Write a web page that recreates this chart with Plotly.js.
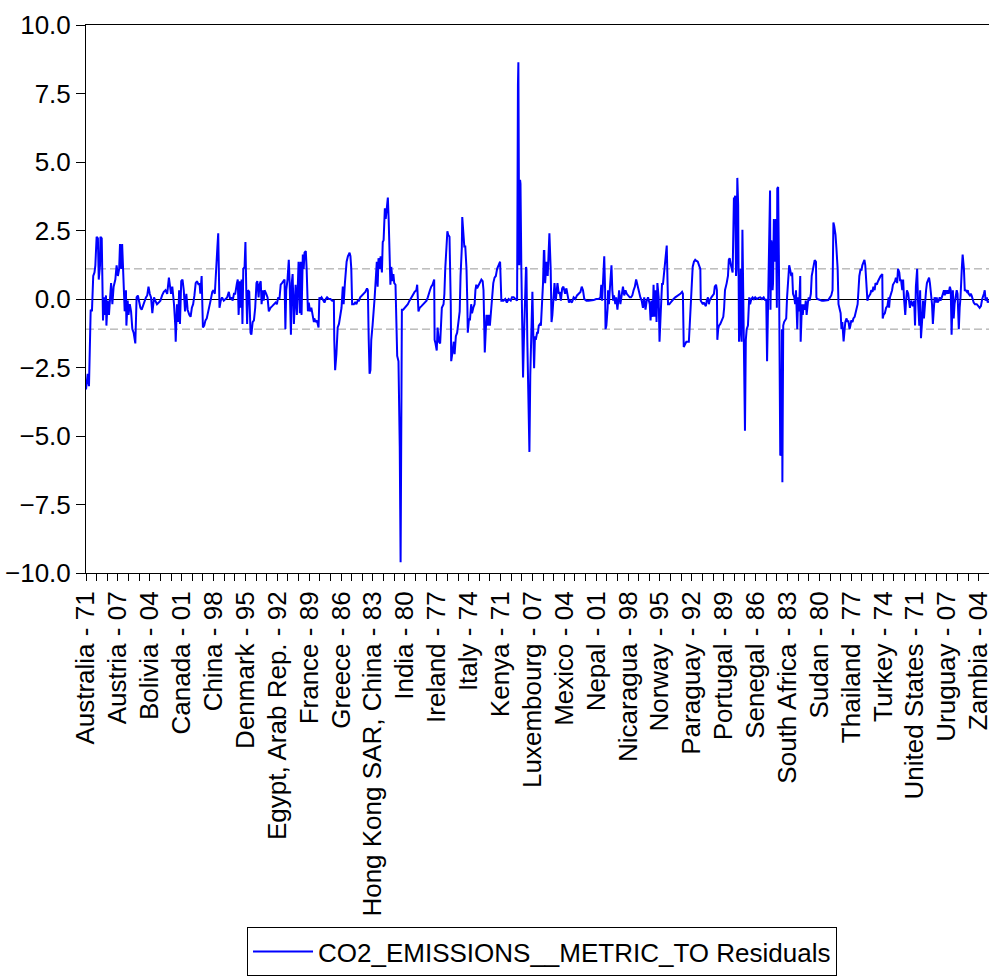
<!DOCTYPE html>
<html>
<head>
<meta charset="utf-8">
<script src="https://cdn.plot.ly/plotly-3.0.1.min.js"></script>
<style>html,body{margin:0;padding:0;background:#fff;}#chart{width:989px;height:978px;}</style>
</head>
<body>
<div id="chart"></div>
<script>
// Panel observation labels (every 75th observation)
const tickCountries = ["Australia","Austria","Bolivia","Canada","China","Denmark","Egypt, Arab Rep.","France","Greece","Hong Kong SAR, China","India","Ireland","Italy","Kenya","Luxembourg","Mexico","Nepal","Nicaragua","Norway","Paraguay","Portugal","Senegal","South Africa","Sudan","Thailand","Turkey","United States","Uruguay","Zambia"];
const tickYears = ["71","07","04","01","98","95","92","89","86","83","80","77","74","71","07","04","01","98","95","92","89","86","83","80","77","74","71","07","04"];
const tickStep = 75;
const minorStep = 25;
const lastObs = 2124;
const seBand = [1.1, -1.1];
const seriesName = "CO2_EMISSIONS__METRIC_TO Residuals";

const obs1 = [0,4,7,9,11,14,17,20,22,25,28,30,33,34,37,40,42,43,47,48,51,54,56,59,62,65,69,72,75,78,80,83,85,87,89,91,94,95,98,100,103,106,109,112,116,119,122,125,128,131,136,141,144,147,150,153,156,160,163,167,171,175,179,183,187,191,195,197,200,203,207,210,211,214,217,219,221,224,227,230,233,236,239,243,246,249,252,255,258,261,265];
const res1 = [-3.3,-2.73,-3.18,-1.10,-0.39,-0.45,0.84,0.97,1.23,2.27,2.21,0.71,1.23,2.27,2.21,-0.78,0.06,-0.58,0.13,-0.97,-0.06,-0.58,-0.19,0.58,-0.19,0.45,0.71,1.23,0.84,1.10,2.01,1.10,2.01,1.10,-0.19,-0.45,0.32,-0.97,-0.06,-0.58,-0.19,-0.45,-1.10,-1.23,-1.62,0.06,0.13,-0.06,-0.32,-0.39,-0.13,0.06,0.13,0.45,0.19,0.06,-0.52,0.06,-0.06,-0.19,-0.13,-0.06,0.13,0.26,0.32,0.19,0.78,0.58,0.19,0.45,-0.19,-0.97,-1.56,-0.19,-0.84,0.32,-0.91,0.65,0.71,0.32,-0.45,0.19,-0.39,-0.58,-0.65,-0.32,-0.19,0.13,0.58,0.65,0.52];

const obs2 = [267,269,272,275,278,281,284,287,290,293,297,300,303,306,309,311,312,314,317,320,324,328,332,336,339,342,345,348,351,355,357,359,362,364,366,368,370,373,375,377,379,381,384,387,389,392,395,398,401,403,406,408,411,413,416,418,420,424,427,430,434,438,442,446,449,452,455,458,461,464,467,469,471,474,477,479,482,484,486,489,491,493,496,498,500,503,505,507,510,512,514,517,519,522,524,527,530,533,536];
const res2 = [0.58,0.19,0.84,-1.04,-0.97,-0.78,-0.71,-0.45,-0.19,-0.06,0.26,0.32,0.19,0.84,1.88,2.40,1.10,-0.32,-0.06,0.06,-0.06,0,0.06,0.26,0,0.06,-0.06,0.19,0.19,0.58,0.71,-0.58,0.65,-0.32,0.71,-0.91,1.10,1.17,2.08,0.32,-0.91,0.32,0.26,-1.23,-1.30,-0.84,-0.78,-0.32,0.58,0.65,0.06,0.52,0.65,-0.19,0.32,-0.06,0.32,0.19,0.06,-0.45,-0.32,-0.26,-0.19,-0.13,-0.19,0.06,0,0.52,0.58,0.65,0.71,-1.10,0.32,0.71,1.43,0.58,-1.30,0.58,0.91,-0.91,0.06,0.52,-0.58,0.52,1.36,-0.52,1.36,-0.58,1.62,1.10,1.69,1.75,1.10,-0.45,-0.13,-0.45,-0.32,-0.58,-0.84];

const obs3 = [537,540,543,547,549,551,554,558,561,564,567,571,575,579,583,584,586,589,592,595,598,601,604,606,609,611,613,616,620,622,624,626,630,633,636,639,642,645,649,653,657,661,663,665,667,669,671,674,677,679,681,684,686,688,691,693,696,698,700,703,705,707,710,712,714,716,718,721,723,725,728,730,732,735,738,740,743,746,750,754,757,761,765,769,773,777,779,782,785,789,793,797,801,804,807];
const res3 = [-0.71,-0.84,-0.78,-1.04,0.06,0,0.06,-0.06,-0.13,0,0.06,0,0,-0.06,-0.06,-1.49,-2.60,-2.01,-1.04,-0.91,-0.58,-0.32,0.45,-0.19,0.58,0.97,1.36,1.56,1.69,1.56,1.10,-0.19,-0.19,-0.13,-0.19,-0.06,-0.06,0.06,0.13,0.19,0.26,0.39,0.32,-1.49,-2.73,-2.60,-1.49,-0.97,-0.45,0.06,0.58,1.36,0.45,1.49,1.10,1.56,0.97,2.08,2.14,3.31,2.92,3.31,3.70,2.86,1.23,0.52,1.17,0.65,0.91,0.58,0.52,-1.10,-2.08,-2.27,-5.39,-9.61,-0.39,-0.39,-0.32,-0.26,-0.19,-0.06,0.06,0.19,0.26,0.32,0.52,-0.45,-0.32,-0.26,-0.19,-0.13,-0.06,0.06,0.26];

const obs4 = [809,812,815,819,820,822,825,827,830,833,835,837,841,843,845,848,850,852,855,858,859,862,865,867,870,873,877,879,881,884,885,888,890,892,895,897,898,901,903,906,908,911,914,916,918,920,924,927,930,933,935,938,940,942,945,947,950,953,956,958,961,964,967,971,974,977,982,986,990,994,999,1002,1006,1010,1014,1016,1017,1019,1021,1022,1024,1026,1028,1030,1033,1035,1036,1038,1040,1043,1045,1047,1050,1052,1054,1056,1058,1061,1063,1065,1068,1070,1073,1075,1077];
const res4 = [0.32,0.45,0.52,0.71,-1.49,-1.62,-1.88,-1.04,-1.56,-1.62,-0.58,-0.32,-0.19,0.19,1.10,1.88,2.47,2.34,2.27,-0.19,-2.27,-1.95,-1.56,-2.01,-1.36,-1.23,-0.58,-0.45,0.84,1.88,2.99,2.40,1.88,1.95,1.10,-0.19,-1.23,-0.71,-0.78,-0.19,-0.52,-0.32,-0.19,0.32,0.52,0.39,0.52,0.58,0.71,0.65,0.32,-1.95,-1.23,-0.58,-0.97,-0.58,-0.97,-0.45,0.32,0.58,0.78,0.84,1.10,1.23,1.36,-0.06,-0.06,0,-0.13,0,-0.06,0.06,0.06,0,-0.06,7.8,8.64,1.23,4.35,4.2,1.10,-1.23,-2.86,-1.49,0.32,1.17,1.10,-1.49,-3.44,-5.58,-2.79,-1.49,0.26,-1.23,-2.53,-1.36,-1.49,-1.23,-1.23,-0.97,-0.91,-0.97,-0.19,0.58,1.75];

const obs5 = [1078,1080,1083,1086,1088,1090,1093,1095,1097,1100,1102,1105,1107,1109,1112,1114,1117,1120,1123,1127,1130,1133,1136,1139,1143,1147,1151,1155,1159,1163,1166,1169,1172,1177,1182,1188,1194,1200,1206,1210,1212,1214,1216,1217,1219,1221,1222,1224,1227,1228,1230,1232,1235,1236,1238,1240,1242,1245,1247,1250,1252,1254,1257,1260,1263,1266,1269,1272,1275,1279,1282,1285,1288,1291,1294,1297,1300,1304,1307,1310,1313,1316,1319,1322,1326,1328,1330,1333,1335,1337,1340,1342,1344,1347,1349];
const res5 = [1.75,0.58,1.36,0.84,1.88,2.40,1.10,-0.84,-0.58,0.06,0.58,-0.06,0.45,0.58,0.19,0.26,-0.06,0.39,0.45,0.19,0.39,0.13,-0.13,-0.06,-0.13,0.06,0,0.13,0.19,0.26,0.45,0.32,0,-0.06,-0.06,-0.06,-0.04,0,0,0.06,0.52,-0.06,0.65,1.10,1.56,0.32,-1.10,-0.97,-0.32,0.32,-0.19,0.32,0.84,1.23,0.32,-0.06,0.13,-0.19,0.06,-0.39,-0.06,0.32,-0.19,0.19,0.45,0.13,0.32,0.19,0.13,0.06,0.06,0.13,0.32,0.45,0.71,0.45,0.32,0.06,-0.06,-0.32,0.06,-0.39,-0.06,0.06,-0.19,-0.78,-0.06,-0.65,0.52,-0.65,0.32,-0.84,0.58,0.06,-1.56];

const obs6 = [1352,1355,1357,1359,1362,1364,1366,1369,1372,1375,1378,1382,1386,1390,1394,1398,1402,1404,1406,1409,1412,1415,1418,1420,1423,1425,1427,1430,1433,1436,1439,1442,1445,1446,1449,1451,1453,1456,1458,1460,1463,1465,1467,1471,1474,1477,1479,1482,1484,1485,1487,1489,1492,1494,1496,1499,1501,1503,1507,1510,1512,1514,1517,1519,1521,1524,1525,1527,1529,1530,1532,1534,1536,1538,1540,1542,1544,1546,1547,1549,1550,1552,1554,1557,1558,1560,1562,1565,1568,1571,1574,1578,1582,1586,1590,1594,1598,1600,1602,1604,1605,1607,1609,1610,1612,1613,1615,1616,1618];
const res6 = [-0.45,0.58,0.52,0.84,1.10,1.62,1.95,-0.19,-0.19,-0.13,-0.06,0,0.06,0.10,0.13,0.19,0.26,0.19,-1.75,-1.62,-1.56,-1.56,-1.56,-0.97,0.06,0.97,1.17,1.36,1.43,1.39,1.36,1.23,1.10,-0.06,-0.13,-0.19,-0.13,-0.19,-0.26,-0.06,0.06,-0.19,-0.06,0.06,0.13,0.19,0.45,0.52,0.32,-1.49,-1.10,-0.97,-0.91,-0.84,-0.71,-0.65,-0.32,0.32,0.58,0.84,1.43,1.49,1.23,1.04,0.97,3.70,3.57,3.77,0.84,1.10,4.42,3.44,-1.56,-1.10,1.10,-1.56,2.53,-0.71,-2.27,-2.79,-4.81,-1.49,-1.10,-0.97,-0.58,0.06,-0.19,0,0.06,0,0.06,0,0.04,0.06,0,0.06,-0.06,0,-2.27,-0.45,1.10,2.27,3.96,-0.39,2.14,2.01,0.32,0.58,2.92];

const obs7 = [1621,1623,1625,1626,1628,1630,1631,1633,1635,1637,1638,1640,1642,1644,1647,1649,1652,1654,1656,1659,1661,1663,1666,1668,1670,1673,1675,1677,1680,1681,1684,1686,1688,1691,1693,1695,1698,1700,1702,1705,1707,1710,1712,1714,1717,1718,1720,1724,1727,1731,1735,1738,1742,1746,1750,1753,1756,1758,1760,1763,1765,1768,1770,1772,1775,1777,1779,1782,1784,1786,1789,1791,1793,1796,1798,1800,1803,1805,1808,1811,1815,1817,1819,1822,1824,1826,1829,1831,1833,1836,1838,1840,1843,1845,1847,1850,1852,1855,1857,1860,1863,1866,1869,1873,1874,1876,1879,1882,1885,1888];
const res7 = [1.36,2.92,-0.32,4.03,4.09,1.10,-0.84,-5.71,-5.65,-1.10,-6.69,-0.97,-0.84,-0.78,-0.71,0.06,0.84,1.23,1.10,0.84,0.97,0.19,0.06,-0.19,0.32,-1.10,0.06,-0.45,0.84,-1.56,-0.19,-0.58,-0.19,-0.39,-0.06,-0.58,-0.13,0.06,-0.06,0.19,0.84,1.10,1.36,1.42,1.36,0.06,0,-0.03,-0.04,-0.06,-0.06,-0.06,-0.06,-0.04,0.06,0.13,0.32,2.79,2.66,2.34,1.88,1.10,-0.19,-0.32,-0.52,-1.10,-0.84,-1.55,-0.97,-0.84,-0.71,-0.84,-0.78,-1.10,-0.97,-0.78,-0.84,-0.71,-0.65,-0.45,-0.19,0.32,0.84,1.10,1.04,1.23,1.36,1.43,1.23,0.06,-0.06,0.06,0.13,0.19,0.32,0.26,0.45,0.32,0.58,0.52,0.65,0.78,0.84,0.91,-0.71,-0.58,-0.52,-0.32,-0.26,0.06];

const obs8 = [1889,1891,1894,1896,1898,1901,1903,1905,1908,1910,1913,1915,1917,1920,1922,1924,1927,1929,1931,1934,1936,1938,1941,1943,1945,1948,1950,1952,1955,1957,1960,1962,1964,1967,1969,1971,1974,1976,1978,1981,1983,1985,1988,1990,1992,1994,1996,1999,2001,2003,2006,2008,2010,2013,2015,2018,2020,2022,2025,2027,2029,2032,2034,2036,2039,2041,2043,2046,2048,2050,2053,2055,2057,2060,2062,2065,2067,2069,2072,2074,2076,2079,2081,2083,2086,2088,2091,2095,2099,2102,2105,2108,2112,2114,2116,2119,2121,2124];
const res8 = [-0.32,0.06,0.19,0.32,0.52,0.58,0.65,0.78,0.58,1.10,0.97,0.65,0.71,0.32,0.71,0.06,-0.58,-0.06,0.32,0.19,-0.19,-0.32,-0.06,-0.19,-0.26,-0.06,-0.97,0.45,1.10,-0.06,-0.97,0.32,-1.43,-0.71,-0.06,-0.71,0.06,0.32,0.58,0.71,0.78,0.58,0.19,-0.19,-0.91,-0.06,0.06,-0.13,0.06,-0.13,-0.06,0.06,-0.06,0.06,0.19,0.32,0.13,0.32,0.19,0.32,0.19,0.45,0.32,-1.30,0.32,-0.71,-0.19,0.06,0.32,0.19,-1.10,-0.32,0.06,1.10,1.62,1.10,0.32,0.32,0.26,0.32,0.19,0.13,0.19,0.13,-0.06,-0.13,-0.19,-0.19,-0.26,-0.32,-0.26,0,0.19,0.32,-0.06,0.06,-0.13,-0.06];

const xs = [].concat(obs1, obs2, obs3, obs4, obs5, obs6, obs7, obs8);
const ys = [].concat(res1, res2, res3, res4, res5, res6, res7, res8);

const tickvals = tickCountries.map((c, i) => i * tickStep);
const ticktext = tickCountries.map((c, i) => c + " - " + tickYears[i]);
const minorVals = [];
for (let v = 0; v <= lastObs; v += minorStep) { if (v % tickStep !== 0) minorVals.push(v); }
const yTicks = [-10, -7.5, -5, -2.5, 0, 2.5, 5, 7.5, 10];

const FONT = "Arial, 'Liberation Sans', sans-serif";
const FS = 26;

const trace = {
  x: xs, y: ys, type: "scatter", mode: "lines", name: seriesName,
  line: {color: "#0000FF", width: 2}, showlegend: true, hoverinfo: "skip"
};

const shapes = seBand.map(b => ({
  type: "line", xref: "paper", x0: 0, x1: 1, yref: "y", y0: b, y1: b,
  line: {color: "#9a9a9a", width: 1, dash: "8px,4px"}, layer: "below"
}));

const layout = {
  width: 989, height: 978,
  margin: {l: 86, r: 0, t: 25, b: 405, autoexpand: false},
  paper_bgcolor: "#fff", plot_bgcolor: "#fff",
  font: {family: FONT, size: FS, color: "#000"},
  showlegend: true,
  xaxis: {
    range: [0, lastObs], tickmode: "array", tickvals: tickvals, ticktext: ticktext,
    tickangle: -90, ticks: "outside", ticklen: 7, tickwidth: 1, tickcolor: "#000",
    ticklabeloverflow: "allow",
    showline: true, linecolor: "#000", linewidth: 1, mirror: true,
    showgrid: false, zeroline: false, automargin: false,
    tickfont: {family: FONT, size: FS, color: "#000"},
    minor: {tickmode: "array", tickvals: minorVals, ticks: "outside", ticklen: 7, tickwidth: 1, tickcolor: "#000", showgrid: false}
  },
  yaxis: {
    range: [-10, 10], tickmode: "array", tickvals: yTicks, tickformat: ".1f",
    ticks: "outside", ticklen: 9, tickwidth: 1, tickcolor: "#000",
    showline: true, linecolor: "#000", linewidth: 1, mirror: false,
    showgrid: false, zeroline: true, zerolinecolor: "#000", zerolinewidth: 1, automargin: false,
    tickfont: {family: FONT, size: FS, color: "#000"}
  },
  shapes: shapes,
  legend: {
    orientation: "h", x: 0.505, xanchor: "center", y: -0.7354, yanchor: "bottom",
    bordercolor: "#000", borderwidth: 1, bgcolor: "#fff", itemwidth: 60,
    font: {family: FONT, size: FS, color: "#000"}
  }
};

Plotly.newPlot("chart", [trace], layout, {displayModeBar: false, staticPlot: true});
</script>
</body>
</html>
